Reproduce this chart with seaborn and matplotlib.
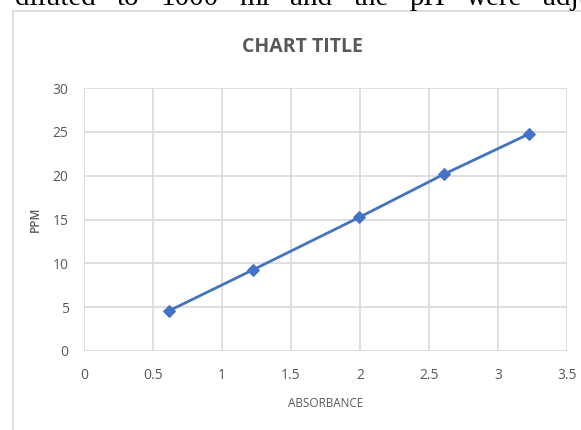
import matplotlib
matplotlib.use("Agg")
import matplotlib.pyplot as plt
from matplotlib.patches import Rectangle
import seaborn as sns
import pandas as pd

# Calibration points
absorbance = [0.618, 1.222, 1.995, 2.606, 3.222]
ppm = [4.6, 9.24, 15.25, 20.15, 24.74]

x_ticks = [0, 0.5, 1, 1.5, 2, 2.5, 3, 3.5]
x_tick_labels = ["0", "0.5", "1", "1.5", "2", "2.5", "3", "3.5"]
y_ticks = [0, 5, 10, 15, 20, 25, 30]

# Justified line of body text above the chart
page_words = ["diluted", "to", "1000", "ml", "and", "the", "pH", "were", "adju"]

df = pd.DataFrame({"ABSORBANCE": absorbance, "PPM": ppm})

sns.set_theme(style="white")
plt.rcParams["font.family"] = ["Open Sans", "DejaVu Sans"]

W, H = 581, 430
fig = plt.figure(figsize=(W / 100, H / 100), dpi=100)
fig.patch.set_facecolor("white")

# Lay the words out justified between the left margin and the last word start
renderer = fig.canvas.get_renderer()
texts = [fig.text(0, 1 - 5 / H, w, family=["Liberation Serif"], fontsize=21,
                  color="black", ha="left", va="baseline") for w in page_words]
widths = [t.get_window_extent(renderer).width for t in texts]
start, last_start = 15.0, 543.0
gap = (last_start - start - sum(widths[:-1])) / (len(page_words) - 1)
x = start
for t, w in zip(texts, widths):
    t.set_x(x / W)
    x += w + gap

# Chart frame
fig.add_artist(Rectangle((13 / W, -0.1), 1.2, (1 - 11 / H) + 0.1,
                         transform=fig.transFigure, fill=False,
                         edgecolor="#d9d9d9", linewidth=1.2))

ax = fig.add_axes([84 / W, 1 - 351 / H, (567 - 84) / W, (351 - 88) / H])
ax.set_facecolor("none")

sns.lineplot(data=df, x="ABSORBANCE", y="PPM", ax=ax, color="#4472C4",
             linewidth=2.0, marker="D", markersize=6.5,
             markeredgecolor="#4472C4", markerfacecolor="#4472C4")

ax.set_xlim(0, 3.5)
ax.set_ylim(0, 30)
ax.set_xticks(x_ticks)
ax.set_xticklabels(x_tick_labels)
ax.set_yticks(y_ticks)
ax.grid(True, color="#d9d9d9", linewidth=1.2)
ax.set_axisbelow(True)
for s in ax.spines.values():
    s.set_visible(False)
ax.tick_params(axis="both", length=0, colors="#595959", labelsize=10)
ax.tick_params(axis="x", pad=12)
ax.tick_params(axis="y", pad=11)

ax.set_xlabel("ABSORBANCE", fontsize=8.5, color="#595959", labelpad=10)
ax.set_ylabel("PPM", fontsize=8.5, color="#595959", labelpad=8,
              fontweight="semibold")

fig.text(302 / W, 1 - 47 / H, "CHART TITLE", ha="center", va="center",
         fontsize=14, fontweight="bold", color="#595959")

fig.savefig("out.png", dpi=100)
